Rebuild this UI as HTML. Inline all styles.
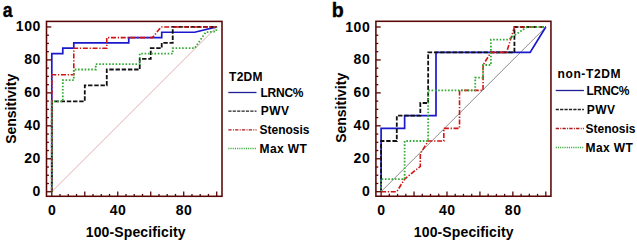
<!DOCTYPE html>
<html><head><meta charset="utf-8"><style>
html,body{margin:0;padding:0;background:#fff;}
svg{display:block;}
text{font-family:"Liberation Sans",sans-serif;font-weight:bold;fill:#000;}
</style></head><body>
<svg width="637" height="243" viewBox="0 0 637 243">
<rect width="637" height="243" fill="#fff"/>
<line x1="51.8" y1="191.75" x2="216.70" y2="26.95" stroke="#c87878" stroke-width="0.6"/>
<polyline points="51.80,191.75 51.80,53.53 62.79,53.53 62.79,48.21 73.79,48.21 73.79,42.90 128.75,42.90 128.75,37.58 161.73,37.58 161.73,32.27 194.71,32.27 216.70,26.95" stroke="#1a1acc" stroke-width="1.7" fill="none"/>
<polyline points="51.80,191.75 51.80,101.38 84.78,101.38 84.78,85.43 106.77,85.43 106.77,69.48 139.75,69.48 139.75,58.85 150.74,58.85 150.74,48.21 161.73,48.21 161.73,42.90 172.73,42.90 172.73,26.95 216.70,26.95" stroke="#111" stroke-width="1.8" fill="none" stroke-dasharray="4.4 1.8"/>
<polyline points="51.80,191.75 51.80,74.80 73.79,74.80 73.79,48.21 106.77,48.21 106.77,37.58 152.39,37.58 161.18,26.95 216.70,26.95" stroke="#d01515" stroke-width="1.6" fill="none" stroke-dasharray="5 1.7 1.3 1.7"/>
<polyline points="51.80,191.75 51.80,101.38 62.79,101.38 62.79,80.11 73.79,80.11 73.79,69.48 95.77,69.48 95.77,64.16 139.75,64.16 139.75,53.53 172.73,53.53 172.73,48.21 194.71,48.21 205.71,32.27 216.15,31.47 216.70,26.95" stroke="#33aa33" stroke-width="1.8" fill="none" stroke-dasharray="1.6 1.7"/>
<rect x="46.5" y="21.4" width="175.50" height="174.90" fill="none" stroke="#580606" stroke-width="1.55"/>
<line x1="46.5" y1="191.75" x2="51.30" y2="191.75" stroke="#580606" stroke-width="1.3"/>
<line x1="51.80" y1="196.3" x2="51.80" y2="191.50" stroke="#580606" stroke-width="1.3"/>
<line x1="46.5" y1="183.51" x2="48.90" y2="183.51" stroke="#580606" stroke-width="1.3"/>
<line x1="60.04" y1="196.3" x2="60.04" y2="193.90" stroke="#580606" stroke-width="1.3"/>
<line x1="46.5" y1="175.27" x2="48.90" y2="175.27" stroke="#580606" stroke-width="1.3"/>
<line x1="68.29" y1="196.3" x2="68.29" y2="193.90" stroke="#580606" stroke-width="1.3"/>
<line x1="46.5" y1="167.03" x2="48.90" y2="167.03" stroke="#580606" stroke-width="1.3"/>
<line x1="76.53" y1="196.3" x2="76.53" y2="193.90" stroke="#580606" stroke-width="1.3"/>
<line x1="46.5" y1="158.79" x2="51.30" y2="158.79" stroke="#580606" stroke-width="1.3"/>
<line x1="84.78" y1="196.3" x2="84.78" y2="191.50" stroke="#580606" stroke-width="1.3"/>
<line x1="46.5" y1="150.55" x2="48.90" y2="150.55" stroke="#580606" stroke-width="1.3"/>
<line x1="93.03" y1="196.3" x2="93.03" y2="193.90" stroke="#580606" stroke-width="1.3"/>
<line x1="46.5" y1="142.31" x2="48.90" y2="142.31" stroke="#580606" stroke-width="1.3"/>
<line x1="101.27" y1="196.3" x2="101.27" y2="193.90" stroke="#580606" stroke-width="1.3"/>
<line x1="46.5" y1="134.07" x2="48.90" y2="134.07" stroke="#580606" stroke-width="1.3"/>
<line x1="109.52" y1="196.3" x2="109.52" y2="193.90" stroke="#580606" stroke-width="1.3"/>
<line x1="46.5" y1="125.83" x2="51.30" y2="125.83" stroke="#580606" stroke-width="1.3"/>
<line x1="117.76" y1="196.3" x2="117.76" y2="191.50" stroke="#580606" stroke-width="1.3"/>
<line x1="46.5" y1="117.59" x2="48.90" y2="117.59" stroke="#580606" stroke-width="1.3"/>
<line x1="126.00" y1="196.3" x2="126.00" y2="193.90" stroke="#580606" stroke-width="1.3"/>
<line x1="46.5" y1="109.35" x2="48.90" y2="109.35" stroke="#580606" stroke-width="1.3"/>
<line x1="134.25" y1="196.3" x2="134.25" y2="193.90" stroke="#580606" stroke-width="1.3"/>
<line x1="46.5" y1="101.11" x2="48.90" y2="101.11" stroke="#580606" stroke-width="1.3"/>
<line x1="142.50" y1="196.3" x2="142.50" y2="193.90" stroke="#580606" stroke-width="1.3"/>
<line x1="46.5" y1="92.87" x2="51.30" y2="92.87" stroke="#580606" stroke-width="1.3"/>
<line x1="150.74" y1="196.3" x2="150.74" y2="191.50" stroke="#580606" stroke-width="1.3"/>
<line x1="46.5" y1="84.63" x2="48.90" y2="84.63" stroke="#580606" stroke-width="1.3"/>
<line x1="158.99" y1="196.3" x2="158.99" y2="193.90" stroke="#580606" stroke-width="1.3"/>
<line x1="46.5" y1="76.39" x2="48.90" y2="76.39" stroke="#580606" stroke-width="1.3"/>
<line x1="167.23" y1="196.3" x2="167.23" y2="193.90" stroke="#580606" stroke-width="1.3"/>
<line x1="46.5" y1="68.15" x2="48.90" y2="68.15" stroke="#580606" stroke-width="1.3"/>
<line x1="175.47" y1="196.3" x2="175.47" y2="193.90" stroke="#580606" stroke-width="1.3"/>
<line x1="46.5" y1="59.91" x2="51.30" y2="59.91" stroke="#580606" stroke-width="1.3"/>
<line x1="183.72" y1="196.3" x2="183.72" y2="191.50" stroke="#580606" stroke-width="1.3"/>
<line x1="46.5" y1="51.67" x2="48.90" y2="51.67" stroke="#580606" stroke-width="1.3"/>
<line x1="191.96" y1="196.3" x2="191.96" y2="193.90" stroke="#580606" stroke-width="1.3"/>
<line x1="46.5" y1="43.43" x2="48.90" y2="43.43" stroke="#580606" stroke-width="1.3"/>
<line x1="200.21" y1="196.3" x2="200.21" y2="193.90" stroke="#580606" stroke-width="1.3"/>
<line x1="46.5" y1="35.19" x2="48.90" y2="35.19" stroke="#580606" stroke-width="1.3"/>
<line x1="208.45" y1="196.3" x2="208.45" y2="193.90" stroke="#580606" stroke-width="1.3"/>
<line x1="46.5" y1="26.95" x2="51.30" y2="26.95" stroke="#580606" stroke-width="1.3"/>
<line x1="216.70" y1="196.3" x2="216.70" y2="191.50" stroke="#580606" stroke-width="1.3"/>
<text x="41.00" y="196.25" font-size="14" text-anchor="end" letter-spacing="0.6">0</text>
<text x="41.00" y="163.29" font-size="14" text-anchor="end" letter-spacing="0.6">20</text>
<text x="41.00" y="130.33" font-size="14" text-anchor="end" letter-spacing="0.6">40</text>
<text x="41.00" y="97.37" font-size="14" text-anchor="end" letter-spacing="0.6">60</text>
<text x="41.00" y="64.41" font-size="14" text-anchor="end" letter-spacing="0.6">80</text>
<text x="41.00" y="31.45" font-size="14" text-anchor="end" letter-spacing="0.6">100</text>
<text x="52.10" y="215.40" font-size="14" text-anchor="middle" letter-spacing="0.6">0</text>
<text x="118.06" y="215.40" font-size="14" text-anchor="middle" letter-spacing="0.6">40</text>
<text x="184.02" y="215.40" font-size="14" text-anchor="middle" letter-spacing="0.6">80</text>
<text x="135.70" y="236.7" font-size="14" text-anchor="middle" letter-spacing="0.12">100-Specificity</text>
<text transform="translate(16.40,108.85) rotate(-90)" font-size="14" text-anchor="middle">Sensitivity</text>
<text transform="translate(2.80,17.2) scale(0.84,1)" font-size="21" stroke="#000" stroke-width="0.35">a</text>
<line x1="381.1" y1="191.7" x2="545.80" y2="27.00" stroke="#707070" stroke-width="0.8"/>
<polyline points="381.10,191.70 381.10,128.35 404.63,128.35 404.63,115.68 436.00,115.68 436.00,52.34 530.11,52.34 545.80,27.00" stroke="#1a1acc" stroke-width="1.7" fill="none"/>
<polyline points="381.10,191.70 381.10,141.02 396.79,141.02 396.79,115.68 420.31,115.68 420.31,103.02 428.16,103.02 428.16,52.34 514.43,52.34 514.43,27.00 545.80,27.00" stroke="#111" stroke-width="1.8" fill="none" stroke-dasharray="4.4 1.8"/>
<polyline points="381.10,191.70 396.79,191.70 404.63,179.03 420.31,166.36 420.31,153.69 428.16,141.02 443.84,141.02 443.84,128.35 459.53,128.35 459.53,90.35 483.06,90.35 483.06,65.01 490.90,52.34 506.59,52.34 514.43,27.00 545.80,27.00" stroke="#d01515" stroke-width="1.6" fill="none" stroke-dasharray="5 1.7 1.3 1.7"/>
<polyline points="381.10,191.70 381.10,179.03 404.63,179.03 404.63,141.02 428.16,141.02 428.16,90.35 475.21,90.35 475.21,77.68 483.06,77.68 483.06,65.01 490.90,65.01 490.90,39.67 508.15,39.67 526.98,27.00 545.80,27.00" stroke="#33aa33" stroke-width="1.8" fill="none" stroke-dasharray="1.6 1.7"/>
<rect x="375.9" y="21.3" width="175.05" height="174.95" fill="none" stroke="#580606" stroke-width="1.55"/>
<line x1="375.9" y1="191.70" x2="380.70" y2="191.70" stroke="#580606" stroke-width="1.3"/>
<line x1="381.10" y1="196.25" x2="381.10" y2="191.45" stroke="#580606" stroke-width="1.3"/>
<line x1="375.9" y1="183.46" x2="378.30" y2="183.46" stroke="#580606" stroke-width="1.3"/>
<line x1="389.34" y1="196.25" x2="389.34" y2="193.85" stroke="#580606" stroke-width="1.3"/>
<line x1="375.9" y1="175.23" x2="378.30" y2="175.23" stroke="#580606" stroke-width="1.3"/>
<line x1="397.57" y1="196.25" x2="397.57" y2="193.85" stroke="#580606" stroke-width="1.3"/>
<line x1="375.9" y1="167.00" x2="378.30" y2="167.00" stroke="#580606" stroke-width="1.3"/>
<line x1="405.81" y1="196.25" x2="405.81" y2="193.85" stroke="#580606" stroke-width="1.3"/>
<line x1="375.9" y1="158.76" x2="380.70" y2="158.76" stroke="#580606" stroke-width="1.3"/>
<line x1="414.04" y1="196.25" x2="414.04" y2="191.45" stroke="#580606" stroke-width="1.3"/>
<line x1="375.9" y1="150.52" x2="378.30" y2="150.52" stroke="#580606" stroke-width="1.3"/>
<line x1="422.28" y1="196.25" x2="422.28" y2="193.85" stroke="#580606" stroke-width="1.3"/>
<line x1="375.9" y1="142.29" x2="378.30" y2="142.29" stroke="#580606" stroke-width="1.3"/>
<line x1="430.51" y1="196.25" x2="430.51" y2="193.85" stroke="#580606" stroke-width="1.3"/>
<line x1="375.9" y1="134.05" x2="378.30" y2="134.05" stroke="#580606" stroke-width="1.3"/>
<line x1="438.75" y1="196.25" x2="438.75" y2="193.85" stroke="#580606" stroke-width="1.3"/>
<line x1="375.9" y1="125.82" x2="380.70" y2="125.82" stroke="#580606" stroke-width="1.3"/>
<line x1="446.98" y1="196.25" x2="446.98" y2="191.45" stroke="#580606" stroke-width="1.3"/>
<line x1="375.9" y1="117.58" x2="378.30" y2="117.58" stroke="#580606" stroke-width="1.3"/>
<line x1="455.22" y1="196.25" x2="455.22" y2="193.85" stroke="#580606" stroke-width="1.3"/>
<line x1="375.9" y1="109.35" x2="378.30" y2="109.35" stroke="#580606" stroke-width="1.3"/>
<line x1="463.45" y1="196.25" x2="463.45" y2="193.85" stroke="#580606" stroke-width="1.3"/>
<line x1="375.9" y1="101.11" x2="378.30" y2="101.11" stroke="#580606" stroke-width="1.3"/>
<line x1="471.69" y1="196.25" x2="471.69" y2="193.85" stroke="#580606" stroke-width="1.3"/>
<line x1="375.9" y1="92.88" x2="380.70" y2="92.88" stroke="#580606" stroke-width="1.3"/>
<line x1="479.92" y1="196.25" x2="479.92" y2="191.45" stroke="#580606" stroke-width="1.3"/>
<line x1="375.9" y1="84.64" x2="378.30" y2="84.64" stroke="#580606" stroke-width="1.3"/>
<line x1="488.16" y1="196.25" x2="488.16" y2="193.85" stroke="#580606" stroke-width="1.3"/>
<line x1="375.9" y1="76.41" x2="378.30" y2="76.41" stroke="#580606" stroke-width="1.3"/>
<line x1="496.39" y1="196.25" x2="496.39" y2="193.85" stroke="#580606" stroke-width="1.3"/>
<line x1="375.9" y1="68.17" x2="378.30" y2="68.17" stroke="#580606" stroke-width="1.3"/>
<line x1="504.62" y1="196.25" x2="504.62" y2="193.85" stroke="#580606" stroke-width="1.3"/>
<line x1="375.9" y1="59.94" x2="380.70" y2="59.94" stroke="#580606" stroke-width="1.3"/>
<line x1="512.86" y1="196.25" x2="512.86" y2="191.45" stroke="#580606" stroke-width="1.3"/>
<line x1="375.9" y1="51.71" x2="378.30" y2="51.71" stroke="#580606" stroke-width="1.3"/>
<line x1="521.10" y1="196.25" x2="521.10" y2="193.85" stroke="#580606" stroke-width="1.3"/>
<line x1="375.9" y1="43.47" x2="378.30" y2="43.47" stroke="#580606" stroke-width="1.3"/>
<line x1="529.33" y1="196.25" x2="529.33" y2="193.85" stroke="#580606" stroke-width="1.3"/>
<line x1="375.9" y1="35.24" x2="378.30" y2="35.24" stroke="#580606" stroke-width="1.3"/>
<line x1="537.57" y1="196.25" x2="537.57" y2="193.85" stroke="#580606" stroke-width="1.3"/>
<line x1="375.9" y1="27.00" x2="380.70" y2="27.00" stroke="#580606" stroke-width="1.3"/>
<line x1="545.80" y1="196.25" x2="545.80" y2="191.45" stroke="#580606" stroke-width="1.3"/>
<text x="370.30" y="196.20" font-size="14" text-anchor="end" letter-spacing="0.6">0</text>
<text x="370.30" y="163.26" font-size="14" text-anchor="end" letter-spacing="0.6">20</text>
<text x="370.30" y="130.32" font-size="14" text-anchor="end" letter-spacing="0.6">40</text>
<text x="370.30" y="97.38" font-size="14" text-anchor="end" letter-spacing="0.6">60</text>
<text x="370.30" y="64.44" font-size="14" text-anchor="end" letter-spacing="0.6">80</text>
<text x="370.30" y="31.50" font-size="14" text-anchor="end" letter-spacing="0.6">100</text>
<text x="381.40" y="215.40" font-size="14" text-anchor="middle" letter-spacing="0.6">0</text>
<text x="447.28" y="215.40" font-size="14" text-anchor="middle" letter-spacing="0.6">40</text>
<text x="513.16" y="215.40" font-size="14" text-anchor="middle" letter-spacing="0.6">80</text>
<text x="463.80" y="236.7" font-size="14" text-anchor="middle" letter-spacing="0.12">100-Specificity</text>
<text transform="translate(345.70,107.85) rotate(-90)" font-size="14" text-anchor="middle">Sensitivity</text>
<text transform="translate(331.80,17.2) scale(1,1)" font-size="19.6" stroke="#000" stroke-width="0.35">b</text>
<text x="229.0" y="80.7" font-size="12" letter-spacing="0.3">T2DM</text>
<line x1="228.3" y1="92.50" x2="256.50" y2="92.50" stroke="#202095" stroke-width="1.3"/>
<text x="260.50" y="96.70" font-size="12" letter-spacing="-0.25">LRNC%</text>
<line x1="228.3" y1="111.17" x2="256.50" y2="111.17" stroke="#222" stroke-width="1.4" stroke-dasharray="3.2 1.2"/>
<text x="260.80" y="115.37" font-size="12" letter-spacing="0.4">PWV</text>
<line x1="228.3" y1="129.84" x2="256.50" y2="129.84" stroke="#b01818" stroke-width="1.3" stroke-dasharray="3.3 1.3 1 1.2"/>
<text x="259.50" y="134.04" font-size="12" letter-spacing="0">Stenosis</text>
<line x1="228.3" y1="148.51" x2="256.50" y2="148.51" stroke="#3aa83a" stroke-width="1.3" stroke-dasharray="1.1 1.1"/>
<text x="259.50" y="152.71" font-size="12" letter-spacing="0.4">Max WT</text>
<text x="557.5" y="78.1" font-size="12" letter-spacing="0.62">non-T2DM</text>
<line x1="555.7" y1="90.50" x2="583.90" y2="90.50" stroke="#202095" stroke-width="1.3"/>
<text x="586.50" y="95.20" font-size="12" letter-spacing="-0.25">LRNC%</text>
<line x1="555.7" y1="109.50" x2="583.90" y2="109.50" stroke="#222" stroke-width="1.4" stroke-dasharray="3.2 1.2"/>
<text x="586.80" y="114.20" font-size="12" letter-spacing="0.4">PWV</text>
<line x1="555.7" y1="128.50" x2="583.90" y2="128.50" stroke="#b01818" stroke-width="1.3" stroke-dasharray="3.3 1.3 1 1.2"/>
<text x="585.50" y="133.20" font-size="12" letter-spacing="0">Stenosis</text>
<line x1="555.7" y1="147.50" x2="583.90" y2="147.50" stroke="#3aa83a" stroke-width="1.3" stroke-dasharray="1.1 1.1"/>
<text x="585.50" y="152.20" font-size="12" letter-spacing="0.4">Max WT</text>
</svg>
</body></html>
